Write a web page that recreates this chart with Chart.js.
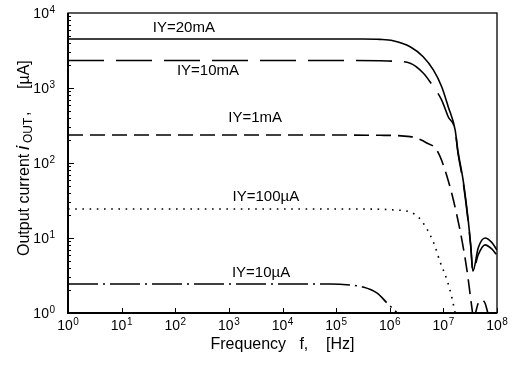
<!DOCTYPE html>
<html><head><meta charset="utf-8">
<script src="https://cdn.jsdelivr.net/npm/chart.js@4.4.1/dist/chart.umd.min.js"></script>
<style>html,body{margin:0;padding:0;background:#fff}canvas{display:block}</style>
</head><body>
<canvas id="c" width="514" height="367"></canvas>
<script>
// ---- data (frequency in Hz, output current in µA) ----
const freq20mA = [1, 1e5, 3.16e5, 6.6e5, 1.15e6, 2.4e6, 4.2e6, 6.5e6, 9.3e6, 1.23e7, 1.66e7, 1.86e7, 2.34e7, 2.9e7, 3.24e7, 3.55e7, 4.47e7, 6.0e7, 7.9e7, 1e8];
const cur20mA  = [4500, 4500, 4500, 4450, 4270, 3550, 2610, 1740, 1040, 564, 275, 147, 58.5, 17.4, 8, 3.6, 7.4, 10, 8.8, 6.9];

const freq10mA = [1, 1e5, 6.6e5, 1.15e6, 2.4e6, 4.2e6, 6.5e6, 9.3e6, 1.23e7, 1.66e7, 1.86e7, 2.34e7, 2.9e7, 3.24e7, 3.55e7, 4.47e7, 6.0e7, 7.9e7, 1e8];
const cur10mA  = [2330, 2330, 2310, 2280, 2140, 1585, 1040, 690, 414, 270, 140, 55, 16.5, 7.6, 3.6, 6.0, 8.1, 7.2, 5.9];

const freq1mA = [1, 1e5, 6.6e5, 2.4e6, 4.9e6, 7.6e6, 1.23e7, 2.04e7, 2.75e7, 3.39e7, 3.7e7, 3.98e7, 4.47e7, 5.25e7, 6.0e7, 6.76e7, 7.6e7];
const cur1mA  = [236, 236, 234, 225, 185, 147, 58.6, 12.8, 3.74, 1.2, 0.8, 1.0, 1.35, 1.49, 1.35, 1.0, 0.8];

const freq100uA = [1, 1e5, 6.6e5, 1.15e6, 2.4e6, 3.8e6, 6.5e6, 8.7e6, 1.17e7, 1.45e7, 1.66e7, 1.8e7];
const cur100uA  = [24.4, 24.4, 24.2, 23.7, 22.2, 17.4, 8.85, 4.79, 2.75, 1.58, 1.0, 0.8];

const freq10uA = [1, 7.8e4, 1.8e5, 3.16e5, 5.75e5, 8.9e5, 1.38e6, 1.6e6];
const cur10uA  = [2.44, 2.44, 2.36, 2.22, 1.85, 1.36, 1.0, 0.9];

const seriesNames = ['IY=20mA', 'IY=10mA', 'IY=1mA', 'IY=100µA', 'IY=10µA'];
// label anchors (Hz, µA)
const labelFreq = [145, 407, 3090, 4900, 3980];
const labelCur  = [6310, 1687, 398, 35.2, 3.41];

const xTickValues = [1, 10, 100, 1e3, 1e4, 1e5, 1e6, 1e7, 1e8];
const xTickExp    = ['0', '1', '2', '3', '4', '5', '6', '7', '8'];
const yTickValues = [1, 10, 100, 1e3, 1e4];
const yTickExp    = ['0', '1', '2', '3', '4'];

const pts = (f, v) => f.map((x, i) => ({x: x, y: v[i]}));
const FONT = "'Liberation Sans', Arial, Helvetica, sans-serif";

const styles = [
  {dash: []},
  {dash: [36, 12]},
  {dash: [15, 7]},
  {dash: [1.6, 5.6]},
  {dash: [30, 5, 2, 5]}
];
const allData = [pts(freq20mA, cur20mA), pts(freq10mA, cur10mA), pts(freq1mA, cur1mA), pts(freq100uA, cur100uA), pts(freq10uA, cur10uA)];

function powLabel(ctx, exp, x, baseY, align) {
  ctx.font = '14px ' + FONT;
  const w1 = ctx.measureText('10').width;
  ctx.font = '10px ' + FONT;
  const w2 = ctx.measureText(exp).width + 0.5;
  let sx = align === 'center' ? x - (w1 + w2) / 2 : x - (w1 + w2);
  ctx.font = '14px ' + FONT;
  ctx.fillText('10', sx, baseY);
  ctx.font = '10px ' + FONT;
  ctx.fillText(exp, sx + w1 + 0.5, baseY - 5);
}

const decoPlugin = {
  id: 'deco',
  afterDatasetsDraw(chart) {
    const {ctx, chartArea: a, scales} = chart;
    const xs = scales.x, ys = scales.y;
    ctx.save();
    ctx.strokeStyle = '#000';
    // tick marks (inward)
    ctx.lineWidth = 1;
    ctx.beginPath();
    for (let e = 0; e < 4; e++) {
      for (let m = 1; m <= 9; m++) {
        const v = m * Math.pow(10, e);
        const py = Math.round(ys.getPixelForValue(v)) + 0.5;
        const len = m === 1 ? 6 : 3;
        ctx.moveTo(a.left, py); ctx.lineTo(a.left + len, py);
      }
    }
    xTickValues.forEach(v => {
      const px = Math.round(xs.getPixelForValue(v)) + 0.5;
      ctx.moveTo(px, a.bottom); ctx.lineTo(px, a.bottom - 5);
    });
    ctx.stroke();
    // frame
    ctx.lineWidth = 1.3;
    ctx.strokeRect(a.left, a.top, a.right - a.left, a.bottom - a.top);
    ctx.lineWidth = 2;
    ctx.beginPath();
    ctx.moveTo(a.left, a.top); ctx.lineTo(a.left, a.bottom); ctx.lineTo(a.right, a.bottom);
    ctx.stroke();

    ctx.fillStyle = '#000';
    // tick labels with superscript exponents
    ctx.textAlign = 'left';
    ctx.textBaseline = 'alphabetic';
    xTickValues.forEach((v, i) => powLabel(ctx, xTickExp[i], xs.getPixelForValue(v), a.bottom + 17, 'center'));
    yTickValues.forEach((v, i) => powLabel(ctx, yTickExp[i], a.left - 13, ys.getPixelForValue(v) + 5, 'right'));

    // series labels
    ctx.font = '15px ' + FONT;
    ctx.textAlign = 'center';
    ctx.textBaseline = 'middle';
    seriesNames.forEach((t, i) => {
      ctx.fillText(t, xs.getPixelForValue(labelFreq[i]), ys.getPixelForValue(labelCur[i]));
    });

    // y axis title with italic i and subscript OUT
    ctx.translate(29, 256);
    ctx.rotate(-Math.PI / 2);
    ctx.textAlign = 'left';
    ctx.textBaseline = 'alphabetic';
    ctx.font = '16px ' + FONT;
    ctx.fillText('Output current', 0, 0);
    ctx.font = 'italic 19px ' + FONT;
    ctx.fillText('i', 106, 0);
    ctx.font = '12px ' + FONT;
    ctx.fillText('OUT', 113, 3);
    ctx.font = '16px ' + FONT;
    ctx.fillText(',', 140, 0);
    ctx.fillText('[µA]', 167, 0);
    ctx.restore();
  }
};

new Chart(document.getElementById('c'), {
  type: 'line',
  data: {
    datasets: allData.map((d, i) => ({
      label: seriesNames[i],
      data: d,
      borderColor: '#000',
      borderWidth: 1.6,
      borderDash: styles[i].dash,
      pointRadius: 0,
      fill: false,
      cubicInterpolationMode: 'monotone'
    }))
  },
  options: {
    responsive: false,
    devicePixelRatio: 1,
    animation: false,
    layout: {padding: {left: 0, right: 17, top: 13, bottom: 0}},
    plugins: {legend: {display: false}, tooltip: {enabled: false}},
    scales: {
      x: {
        type: 'logarithmic', min: 1, max: 1e8,
        grid: {display: false, drawTicks: false},
        border: {display: false},
        afterBuildTicks: s => { s.ticks = xTickValues.map(v => ({value: v})); },
        afterFit: s => { s.height = 54; s.paddingLeft = 0; s.paddingRight = 0; },
        ticks: {display: false},
        title: {display: true, text: 'Frequency   f,    [Hz]', color: '#000',
          font: {family: FONT, size: 16}, padding: {top: 0, bottom: 13}}
      },
      y: {
        type: 'logarithmic', min: 1, max: 1e4,
        grid: {display: false, drawTicks: false},
        border: {display: false},
        afterBuildTicks: s => { s.ticks = yTickValues.map(v => ({value: v})); },
        afterFit: s => { s.width = 68; s.paddingTop = 0; s.paddingBottom = 0; },
        ticks: {display: false}
      }
    }
  },
  plugins: [decoPlugin]
});
</script>
</body></html>
